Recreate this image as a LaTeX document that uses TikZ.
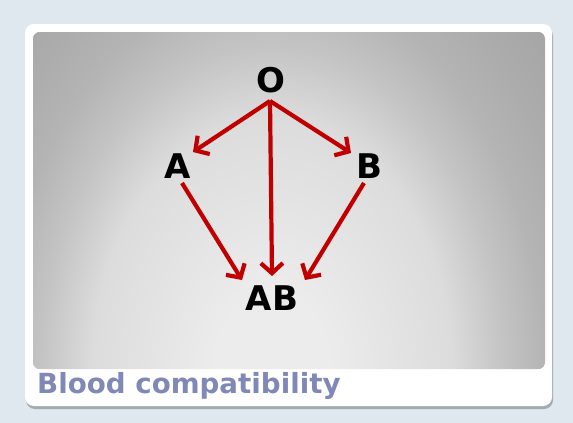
\documentclass[tikz,border=0pt]{standalone}
\usepackage{fontspec}
\setmainfont{DejaVu Sans}
\usetikzlibrary{arrows.meta}
\definecolor{bgblue}{HTML}{DEE8EE}
\definecolor{arrred}{HTML}{C00000}
\definecolor{titlecol}{HTML}{7F88B6}
\definecolor{shadowc}{HTML}{A3ABB0}
\definecolor{g1}{HTML}{ECECEC}
\definecolor{g2}{HTML}{DCDCDC}
\definecolor{g3}{HTML}{C4C4C4}
\definecolor{g4}{HTML}{B4B4B4}
\definecolor{g5}{HTML}{ACACAC}
\definecolor{g6}{HTML}{A4A4A4}
\pgfdeclareradialshading{panelshade}{\pgfpoint{0bp}{0bp}}{color(0bp)=(g1); color(4bp)=(g1); color(12.5bp)=(g2); color(16bp)=(g3); color(19bp)=(g4); color(22bp)=(g5); color(26bp)=(g6); color(50bp)=(g6)}
\tikzset{
  lbl/.style={font=\fontsize{34}{34}\selectfont\bfseries, text=black, inner sep=0pt},
  arr/.style={draw=arrred, line width=4.2pt, -{Straight Barb[length=10pt,width=22pt,line width=4.2pt]}},
}
\begin{document}
\begin{tikzpicture}[x=1pt,y=-1pt]
\useasboundingbox (0,0) rectangle (573,423);
\fill[bgblue] (0,0) rectangle (573,423);
% card shadow
\fill[shadowc, rounded corners=9pt] (26,27) rectangle (553,409);
% card
\fill[white, rounded corners=9pt] (25,24) rectangle (552,406);
% panel
\begin{scope}
\clip[rounded corners=7pt] (33,32) rectangle (545,369);
\fill[g6] (33,32) rectangle (545,369);
\shade[shading=panelshade] (-88,-138) rectangle (632,888);
\end{scope}
% nodes
\node[lbl] (O) at (271,80) {O};
\node[lbl] (A) at (178,166) {A};
\node[lbl] (B) at (369,166) {B};
\node[lbl] (AB) at (272,298) {AB};
\coordinate (Os) at (270,101);
\draw[arr] (Os) -- (193,152);
\draw[arr] (Os) -- (351,153);
\draw[arr] (Os) -- (272,276);
\draw[arr] (182,183) -- (242,280);
\draw[arr] (364,183) -- (305,280);
% title
\node[anchor=base west, inner sep=0pt, text=titlecol, font=\fontsize{27.7}{28}\selectfont\bfseries] (T) at (37,393) {Blood compatibility};
\end{tikzpicture}
\end{document}
